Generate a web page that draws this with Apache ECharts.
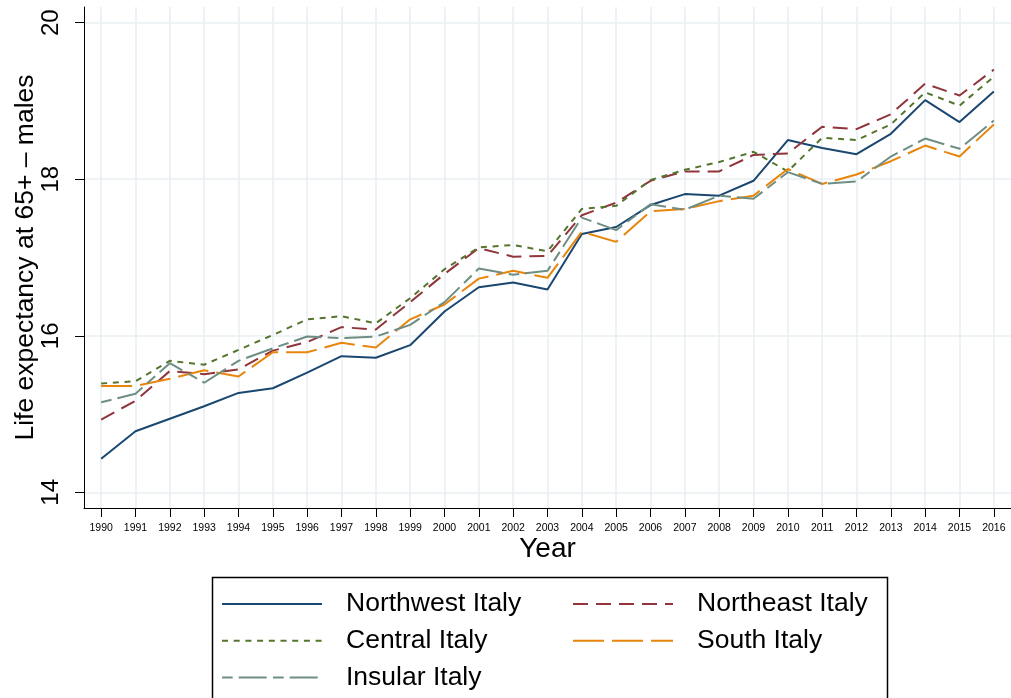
<!DOCTYPE html>
<html>
<head>
<meta charset="utf-8">
<script src="https://cdn.jsdelivr.net/npm/echarts@6/dist/echarts.min.js"></script>
<style>
html,body{margin:0;padding:0;background:#fff;}
#chart{width:1011px;height:698px;}
</style>
</head>
<body>
<div id="chart"></div>
<script>
const years = [1990,1991,1992,1993,1994,1995,1996,1997,1998,1999,2000,2001,2002,2003,2004,2005,2006,2007,2008,2009,2010,2011,2012,2013,2014,2015,2016];
const northwest = [14.43,14.78,14.94,15.10,15.27,15.33,15.53,15.74,15.72,15.88,16.31,16.62,16.68,16.59,17.30,17.39,17.67,17.81,17.79,17.98,18.50,18.40,18.32,18.58,19.01,18.73,19.12];
const northeast = [14.93,15.17,15.55,15.51,15.57,15.81,15.92,16.11,16.08,16.43,16.79,17.12,17.01,17.02,17.54,17.70,17.98,18.10,18.10,18.31,18.33,18.67,18.64,18.83,19.22,19.07,19.40];
const central   = [15.39,15.42,15.68,15.63,15.82,16.01,16.21,16.25,16.16,16.48,16.85,17.13,17.16,17.08,17.62,17.66,17.99,18.12,18.22,18.35,18.10,18.53,18.50,18.70,19.11,18.94,19.31];
const south     = [15.36,15.36,15.45,15.56,15.48,15.79,15.79,15.91,15.85,16.21,16.40,16.73,16.83,16.74,17.33,17.20,17.59,17.62,17.72,17.79,18.13,17.94,18.06,18.23,18.43,18.29,18.70];
const insular   = [15.15,15.26,15.65,15.40,15.68,15.84,15.99,15.97,15.99,16.14,16.43,16.86,16.78,16.83,17.51,17.35,17.68,17.61,17.79,17.75,18.09,17.94,17.97,18.29,18.52,18.39,18.75];
const yTicks = [14,16,18,20];
const names = ['Northwest Italy','Northeast Italy','Central Italy','South Italy','Insular Italy'];

const FONT = 'Liberation Sans, Arial, Helvetica, sans-serif';
const pair = arr => years.map((y,i)=>[y,arr[i]]);

const styles = [
  {color:'#1a476f', type:'solid'},
  {color:'#90353b', type:[15,8]},
  {color:'#55752f', type:[6,5.7]},
  {color:'#e8850c', type:[31,8]},
  {color:'#6e8e84', type:[10.7,6,28,6.3]}
];
const seriesData = [northwest, northeast, central, south, insular];

const legendCommon = {
  orient:'vertical', top:589, itemWidth:100, itemHeight:14, itemGap:6.7, padding:0,
  itemStyle:{opacity:0, borderWidth:0},
  textStyle:{fontSize:26.5, color:'#000', fontFamily:FONT, lineHeight:30, padding:[0,0,0,19]}
};

const chart = echarts.init(document.getElementById('chart'), null, {renderer:'canvas'});
chart.setOption({
  animation:false,
  backgroundColor:'#ffffff',
  grid:{left:84, right:0, top:7, bottom:190, containLabel:false, outerBoundsMode:'none'},
  xAxis:{
    type:'value', min:1989.5, max:2016.5,
    name:'Year', nameLocation:'middle', nameGap:27, nameMoveOverlap:false,
    nameTextStyle:{fontSize:28, color:'#000', fontFamily:FONT},
    axisLine:{show:true, lineStyle:{color:'#000', width:1}},
    axisTick:{show:true, length:9, lineStyle:{color:'#000', width:1}, customValues:years},
    axisLabel:{fontSize:10.5, color:'#000', fontFamily:FONT, margin:15, customValues:years, formatter:v=>String(v)},
    splitLine:{show:true, lineStyle:{color:'#e9f0f2', width:1.6}}
  },
  yAxis:{
    type:'value', min:13.8, max:20.2,
    name:'Life expectancy at 65+ \u2013 males', nameLocation:'middle', nameGap:45, nameRotate:90, nameMoveOverlap:false,
    nameTextStyle:{fontSize:26.5, color:'#000', fontFamily:FONT},
    axisLine:{show:true, lineStyle:{color:'#000', width:1}},
    axisTick:{show:true, length:9, lineStyle:{color:'#000', width:1}, customValues:yTicks},
    axisLabel:{fontSize:24, color:'#000', fontFamily:FONT, rotate:90, margin:21, customValues:yTicks, formatter:v=>String(v)},
    splitLine:{show:true, lineStyle:{color:'#e9f0f2', width:1.6}}
  },
  legend:[
    Object.assign({data:['Northwest Italy','Central Italy','Insular Italy'], left:221}, legendCommon),
    Object.assign({data:['Northeast Italy','South Italy'], left:572}, legendCommon)
  ],
  graphic:[{type:'rect', left:210, top:575, shape:{width:675, height:140}, style:{fill:'none', stroke:'#000', lineWidth:1.5}, silent:true}],
  series: seriesData.map((arr,i)=>({
    name:names[i], type:'line', data:pair(arr), symbol:'none', showSymbol:false,
    lineStyle:{color:styles[i].color, width:2, type:styles[i].type},
    itemStyle:{color:styles[i].color}
  }))
});
</script>
</body>
</html>
